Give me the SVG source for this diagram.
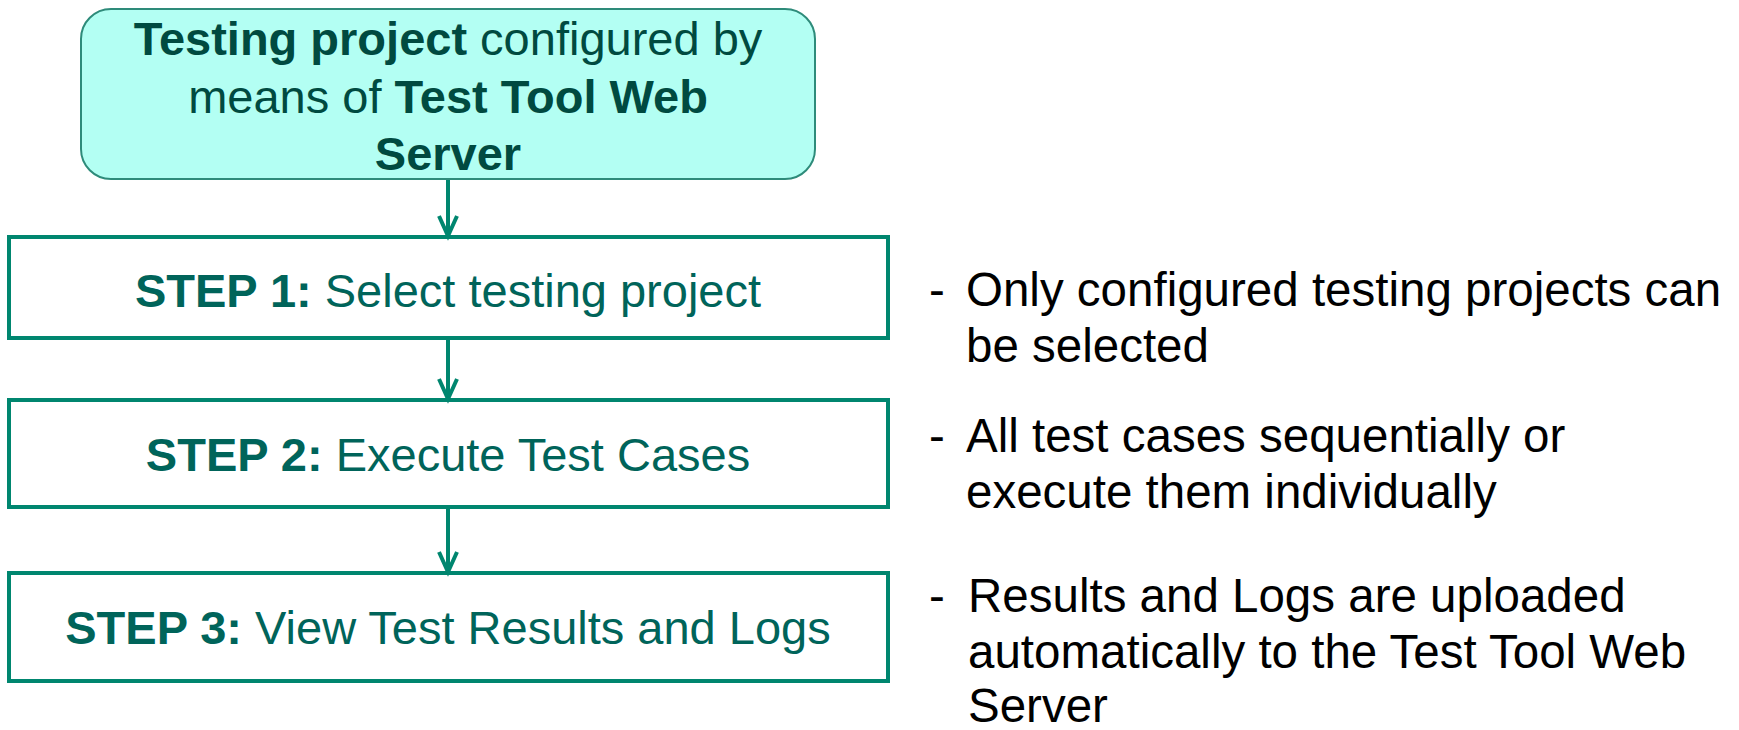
<svg xmlns="http://www.w3.org/2000/svg" width="1739" height="730" viewBox="0 0 1739 730">
<style>
text{font-family:"Liberation Sans",Arial,sans-serif;font-size:47px}
.b{font-weight:bold}
.top{fill:#004a40}
.step{fill:#00645a}
.note{fill:#000;font-size:47.5px}
.box{fill:#fff;stroke:#00866f;stroke-width:4}
.conn{stroke:#00866f;stroke-width:4;fill:none}
</style>
<g id="n0">
<rect x="81" y="9" width="734" height="170" rx="30" ry="30" fill="#b3fff3" stroke="#2e8b7a" stroke-width="2"/>
<text class="top" x="448" y="55" text-anchor="middle"><tspan class="b">Testing project</tspan> configured by</text>
<text class="top" x="448" y="113" text-anchor="middle">means of <tspan class="b">Test Tool Web</tspan></text>
<text class="top b" x="448" y="170" text-anchor="middle">Server</text>
</g>
<g id="n1">
<rect class="box" x="9" y="237" width="879" height="101"/>
<text class="step" x="448" y="307" text-anchor="middle"><tspan class="b">STEP 1:</tspan> Select testing project</text>
</g>
<g id="n2">
<rect class="box" x="9" y="400" width="879" height="107"/>
<text class="step" x="448" y="471" text-anchor="middle"><tspan class="b">STEP 2:</tspan> Execute Test Cases</text>
</g>
<g id="n3">
<rect class="box" x="9" y="573" width="879" height="108"/>
<text class="step" x="448" y="644" text-anchor="middle"><tspan class="b">STEP 3:</tspan> View Test Results and Logs</text>
</g>
<g id="connectors">
<line class="conn" x1="448" y1="180" x2="448" y2="232"/>
<path class="conn" d="M439,216 L448,236 L457,216"/>
<line class="conn" x1="448" y1="338" x2="448" y2="395"/>
<path class="conn" d="M439,379 L448,399 L457,379"/>
<line class="conn" x1="448" y1="507" x2="448" y2="568"/>
<path class="conn" d="M439,552 L448,572 L457,552"/>
</g>
<g id="notes">
<text class="note" x="929" y="306">-</text>
<text class="note" x="966" y="306">Only configured testing projects can</text>
<text class="note" x="966" y="362">be selected</text>
<text class="note" x="929" y="452">-</text>
<text class="note" x="966" y="452">All test cases sequentially or</text>
<text class="note" x="966" y="508">execute them individually</text>
<text class="note" x="929" y="612">-</text>
<text class="note" x="968" y="612">Results and Logs are uploaded</text>
<text class="note" x="968" y="668">automatically to the Test Tool Web</text>
<text class="note" x="968" y="722">Server</text>
</g>
</svg>
